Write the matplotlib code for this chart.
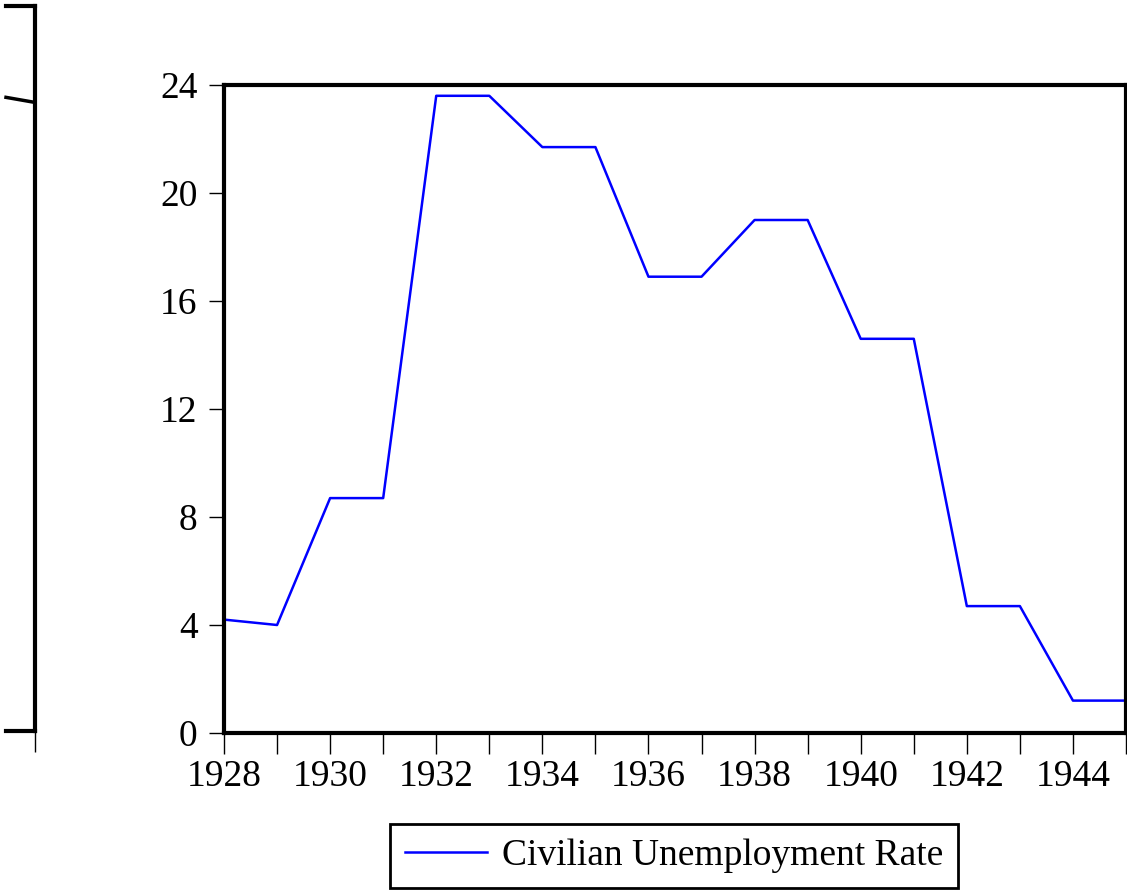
import numpy as np
import matplotlib
matplotlib.use("Agg")
import matplotlib.pyplot as plt

# civilian unemployment rate, percent
years = [1928, 1929, 1930, 1931, 1932, 1933, 1934, 1935, 1936,
         1937, 1938, 1939, 1940, 1941, 1942, 1943, 1944, 1945]
rate = [4.2, 4.0, 8.7, 8.7, 23.6, 23.6, 21.7, 21.7, 16.9,
        16.9, 19.0, 19.0, 14.6, 14.6, 4.7, 4.7, 1.2, 1.2]
ytick_vals = [0, 4, 8, 12, 16, 20, 24]
xtick_labels = [1928, 1930, 1932, 1934, 1936, 1938, 1940, 1942, 1944]

plt.rcParams['font.family'] = ['Liberation Serif', 'DejaVu Serif']
FS = 27

fig = plt.figure(figsize=(11.27, 8.92), dpi=100)

# cut-off panel on the far left
ax0 = fig.add_axes([6 / 1127, 1 - 731 / 892, 29 / 1127, (731 - 6) / 892])
ax0.set_xlim(0, 1)
ax0.set_ylim(0, 1)
ax0.spines['left'].set_visible(False)
for s in ['top', 'bottom', 'right']:
    ax0.spines[s].set_linewidth(3)
ax0.set_yticks([])
ax0.set_xticks([1.0])
ax0.set_xticklabels([])
ax0.tick_params(axis='x', direction='out', length=15, width=1)
ax0.plot([0.0, 1.0], [0.874, 0.867], color='k', lw=2.5, clip_on=False)

# main panel
ax = fig.add_axes([224 / 1127, 1 - 733 / 892, (1126 - 224) / 1127, (733 - 85) / 892])
ax.plot(years, rate, color='#0000ff', lw=1.8, label='Civilian Unemployment Rate')
ax.set_xlim(1928, 1945)
ax.set_ylim(0, 24)
ax.set_yticks(ytick_vals)
ax.set_xticks(years)
ax.set_xticklabels([str(y) if y in xtick_labels else '' for y in years])
for s in ax.spines.values():
    s.set_linewidth(3)
ax.tick_params(axis='y', direction='out', length=11, width=1, pad=8, labelsize=FS)
ax.tick_params(axis='x', direction='out', length=15, width=1, pad=4, labelsize=FS)

leg = fig.legend(loc='center', bbox_to_anchor=(674 / 1127, 1 - 856 / 892),
                 fontsize=FS, frameon=True, fancybox=False, framealpha=1,
                 handlelength=2.2, borderpad=0.4, handletextpad=0.4,
                 borderaxespad=0)
leg.get_frame().set_edgecolor('k')
leg.get_frame().set_linewidth(2)

fig.savefig('out.png', dpi=100)
